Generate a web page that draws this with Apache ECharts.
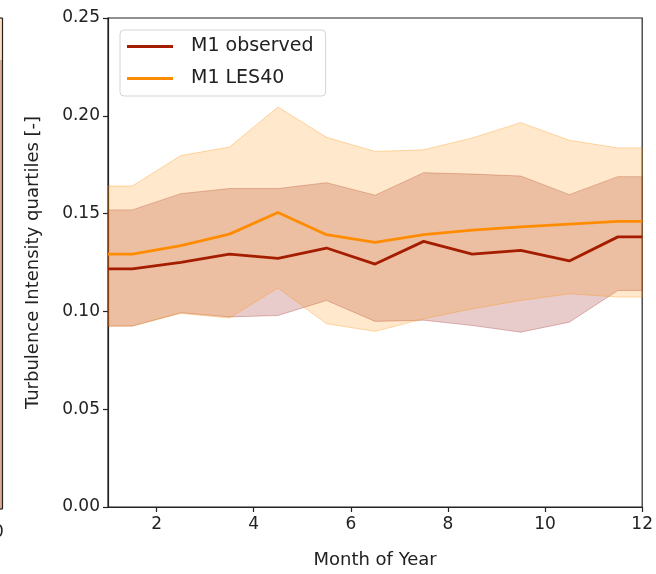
<!DOCTYPE html>
<html>
<head>
<meta charset="utf-8">
<title>Turbulence Intensity quartiles by month</title>
<script src="https://cdn.jsdelivr.net/npm/echarts@6/dist/echarts.min.js"></script>
<style>
  html, body { margin: 0; padding: 0; background: #ffffff; }
  #chart { width: 656px; height: 574px; }
</style>
</head>
<body>
<div id="chart"></div>
<script>
// Month positions (bin centres, padded out to the edges of the axis)
const months = [1, 1.5, 2.5, 3.5, 4.5, 5.5, 6.5, 7.5, 8.5, 9.5, 10.5, 11.5, 12];

// M1 observed: quartiles of turbulence intensity
const obsQ1     = [0.0925, 0.0925, 0.0993, 0.0972, 0.0979, 0.1056, 0.0949, 0.0955, 0.0928, 0.0894, 0.0945, 0.1107, 0.1107];
const obsMedian = [0.1217, 0.1217, 0.1251, 0.1293, 0.1271, 0.1324, 0.1242, 0.1358, 0.1293, 0.1312, 0.1258, 0.1381, 0.1381];
const obsQ3     = [0.1519, 0.1519, 0.1602, 0.1628, 0.1628, 0.1658, 0.1594, 0.1709, 0.1702, 0.1692, 0.1597, 0.1689, 0.1689];

// M1 LES40: quartiles of turbulence intensity
const lesQ1     = [0.0925, 0.0925, 0.0990, 0.0966, 0.1120, 0.0937, 0.0898, 0.0962, 0.1013, 0.1056, 0.1090, 0.1073, 0.1073];
const lesMedian = [0.1293, 0.1293, 0.1336, 0.1395, 0.1506, 0.1392, 0.1353, 0.1392, 0.1415, 0.1432, 0.1446, 0.1460, 0.1460];
const lesQ3     = [0.1641, 0.1641, 0.1797, 0.1840, 0.2045, 0.1890, 0.1818, 0.1826, 0.1887, 0.1965, 0.1875, 0.1836, 0.1836];

const xTicks = [2, 4, 6, 8, 10, 12];

const FONT = 'DejaVu Sans';
const OBS_COLOR = '#a51d00';
const LES_COLOR = '#ff8c00';

const pairs = (ys) => months.map((m, i) => [m, ys[i]]);

// Shaded inter-quartile band, drawn as one polygon in data coordinates
function bandSeries(lo, hi, fill, edge) {
  return {
    type: 'custom',
    silent: true,
    z: 1,
    data: months.map((m, i) => [m, lo[i], hi[i]]),
    encode: { x: 0, y: [1, 2] },
    renderItem: function (params, api) {
      if (params.dataIndex !== 0) return null;
      const upper = months.map((m, i) => api.coord([m, hi[i]]));
      const lower = months.map((m, i) => api.coord([m, lo[i]])).reverse();
      return {
        type: 'polygon',
        shape: { points: upper.concat(lower) },
        style: { fill: fill, stroke: edge, lineWidth: 1 }
      };
    }
  };
}

const chart = echarts.init(document.getElementById('chart'), null, { renderer: 'canvas' });

chart.setOption({
  animation: false,
  backgroundColor: '#ffffff',
  textStyle: { fontFamily: FONT },
  grid: { left: 108, right: 11, top: 18, bottom: 65, show: true, borderColor: '#222', borderWidth: 1.2, backgroundColor: 'transparent' },
  legend: {
    orient: 'vertical',
    left: 120, top: 30,
    data: ['M1 observed', 'M1 LES40'],
    icon: 'rect',
    itemWidth: 46, itemHeight: 3,
    itemGap: 13,
    padding: [7, 12, 8, 7],
    backgroundColor: '#ffffff',
    borderColor: '#d4d4d4', borderWidth: 1, borderRadius: 4,
    textStyle: { fontFamily: FONT, fontSize: 19, color: '#222', padding: [0, 0, 0, 13] },
    selectedMode: false
  },
  xAxis: {
    type: 'value', min: 1, max: 12,
    name: 'Month of Year', nameLocation: 'middle', nameGap: 44,
    nameTextStyle: { fontFamily: FONT, fontSize: 18, color: '#222' },
    axisLine: { show: true, lineStyle: { color: '#222', width: 1.2 } },
    axisTick: { show: true, length: 5, lineStyle: { color: '#222', width: 1.2 }, customValues: xTicks },
    axisLabel: { fontFamily: FONT, fontSize: 17, color: '#222', margin: 9, customValues: xTicks },
    splitLine: { show: false }
  },
  yAxis: {
    type: 'value', min: 0, max: 0.25, interval: 0.05,
    name: 'Turbulence Intensity quartiles [-]', nameLocation: 'middle', nameGap: 66,
    nameTextStyle: { fontFamily: FONT, fontSize: 18, color: '#222' },
    axisLine: { show: true, lineStyle: { color: '#222', width: 1.2 } },
    axisTick: { show: true, length: 5, lineStyle: { color: '#222', width: 1.2 } },
    axisLabel: { fontFamily: FONT, fontSize: 17, color: '#222', margin: 8, formatter: (v) => v.toFixed(2) },
    splitLine: { show: false }
  },
  series: [
    bandSeries(obsQ1, obsQ3, 'rgba(150,25,20,0.22)', 'rgba(150,30,20,0.28)'),
    bandSeries(lesQ1, lesQ3, 'rgba(255,140,0,0.2)', 'rgba(255,140,0,0.32)'),
    {
      name: 'M1 observed', type: 'line', data: pairs(obsMedian),
      symbol: 'none', silent: true, z: 3,
      color: OBS_COLOR,
      lineStyle: { color: OBS_COLOR, width: 2.8 }
    },
    {
      name: 'M1 LES40', type: 'line', data: pairs(lesMedian),
      symbol: 'none', silent: true, z: 3,
      color: LES_COLOR,
      lineStyle: { color: LES_COLOR, width: 2.8 }
    }
  ],
  graphic: [
    // right-hand edge of the neighbouring panel
    { type: 'rect', shape: { x: 0, y: 18, width: 2, height: 42 }, style: { fill: 'rgba(255,200,150,0.6)' }, silent: true },
    { type: 'rect', shape: { x: 0, y: 60, width: 2, height: 449 }, style: { fill: 'rgba(210,150,120,0.8)' }, silent: true },
    { type: 'line', shape: { x1: 2.5, y1: 18, x2: 2.5, y2: 509 }, style: { stroke: '#222', lineWidth: 1.2 }, silent: true },
    { type: 'line', shape: { x1: 0, y1: 18, x2: 2.5, y2: 18 }, style: { stroke: '#222', lineWidth: 1.2 }, silent: true },
    { type: 'line', shape: { x1: 0, y1: 509, x2: 2.5, y2: 509 }, style: { stroke: '#222', lineWidth: 1.2 }, silent: true },
    { type: 'text', left: -7, top: 524, style: { text: '0', font: '17px "DejaVu Sans"', fill: '#222' }, silent: true }
  ]
});
</script>
</body>
</html>
